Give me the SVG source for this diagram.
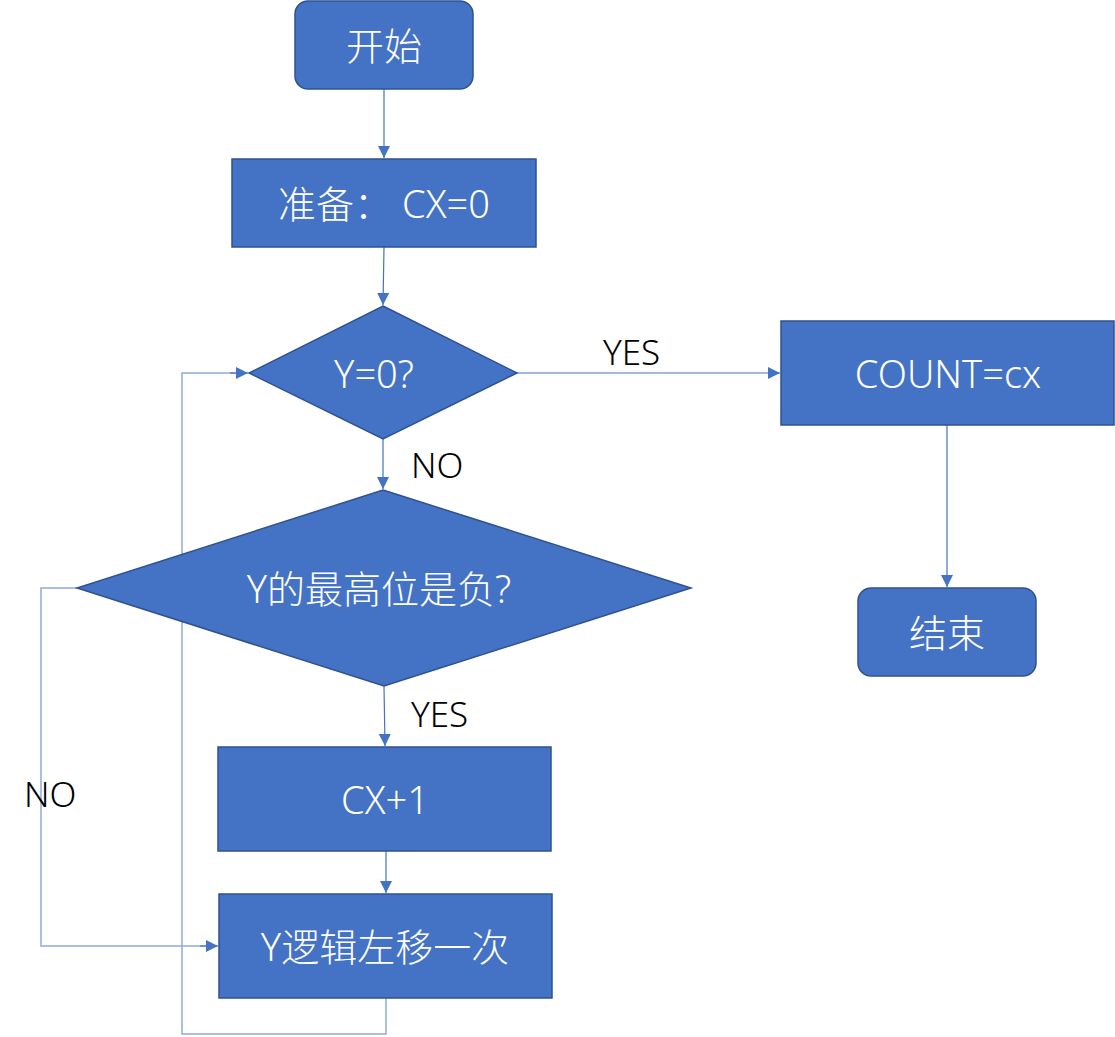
<svg xmlns="http://www.w3.org/2000/svg" width="1115" height="1037" viewBox="0 0 1115 1037">
<defs>
<style>
.n{fill:#4472C4;stroke:#2F528F;stroke-width:1.5}
.t{fill:#ffffff;font-family:"Noto Sans","Noto Sans CJK SC",sans-serif;font-size:38px;font-weight:300;text-anchor:middle;dominant-baseline:central}
.l{fill:#000000;font-family:"Noto Sans","Noto Sans CJK SC",sans-serif;font-size:35px;font-weight:300}
.c{fill:none;stroke:#4472C4;stroke-width:1.2}
.c2{fill:none;stroke:#8FAADC;stroke-width:1.5}
</style>
<marker id="a" viewBox="0 0 10 10" refX="10" refY="5" markerWidth="12" markerHeight="12" markerUnits="userSpaceOnUse" orient="auto">
<path d="M0,0 L10,5 L0,10 Z" fill="#4472C4"/>
</marker>
</defs>
<g id="connectors">
<line class="c" x1="384" y1="89" x2="384" y2="158" marker-end="url(#a)"/>
<line class="c" x1="384" y1="247" x2="383" y2="305" marker-end="url(#a)"/>
<line class="c" x1="517" y1="373" x2="780" y2="373" marker-end="url(#a)"/>
<line class="c" x1="383" y1="439" x2="383" y2="489" marker-end="url(#a)"/>
<line class="c" x1="384" y1="686" x2="385" y2="746" marker-end="url(#a)"/>
<line class="c" x1="386" y1="851" x2="386" y2="893" marker-end="url(#a)"/>
<line class="c" x1="947" y1="425" x2="947" y2="587" marker-end="url(#a)"/>
<polyline class="c2" points="77,588 41,588 41,946 212,946"/>
<line class="c" x1="200" y1="946" x2="218" y2="946" marker-end="url(#a)"/>
<polyline class="c2" points="386,998 386,1034 182,1034 182,373 236,373"/>
<line class="c" x1="230" y1="373" x2="248" y2="373" marker-end="url(#a)"/>
<text class="l" x="603" y="365">YES</text>
<text class="l" x="411" y="478">NO</text>
<text class="l" x="411" y="727">YES</text>
<text class="l" x="24" y="807">NO</text>
</g>
<g id="start"><rect class="n" x="295" y="1" width="178" height="88" rx="13"/><text class="t" x="384" y="45">开始</text></g>
<g id="prepare"><rect class="n" x="232" y="159" width="304" height="88"/><text class="t" x="384" y="203">准备： CX=0</text></g>
<g id="cond1"><polygon class="n" points="383,306 517,373 383,439 249,373"/><text class="t" x="374" y="373">Y=0?</text></g>
<g id="count"><rect class="n" x="781" y="321" width="333" height="104"/><text class="t" x="948" y="373">COUNT=cx</text></g>
<g id="end"><rect class="n" x="858" y="588" width="178" height="88" rx="13"/><text class="t" x="947" y="632">结束</text></g>
<g id="cond2"><polygon class="n" points="383,490 691,588 384,686 77,588"/><text class="t" x="379" y="588">Y的最高位是负?</text></g>
<g id="inc"><rect class="n" x="218" y="747" width="333" height="104"/><text class="t" x="385" y="799">CX+1</text></g>
<g id="shift"><rect class="n" x="219" y="894" width="333" height="104"/><text class="t" x="385" y="946">Y逻辑左移一次</text></g>
</svg>
